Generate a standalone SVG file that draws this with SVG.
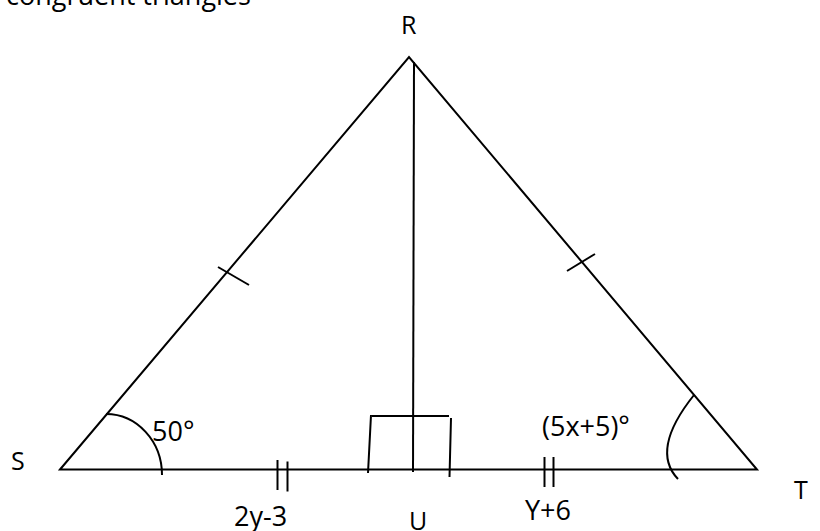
<svg xmlns="http://www.w3.org/2000/svg" width="820" height="531" viewBox="0 0 820 531">
<style>
.ln{stroke:#000;stroke-width:2;fill:none;stroke-linecap:butt}
.lb{font-family:"Open Sans","Liberation Sans",sans-serif;fill:#000}
.v{font-size:25px}
.e{font-size:27px}
</style>
<rect width="820" height="531" fill="#fff"/>
<text class="lb e" x="6" y="5">congruent triangles</text>
<g id="connectors">
<path class="ln" d="M60 469.5 L409 57 L757 469.5 Z"/>
<line class="ln" x1="414" y1="62" x2="413" y2="472"/>
</g>
<g id="R"><text class="lb v" x="401" y="34">R</text></g>
<g id="S"><text class="lb v" x="11" y="470">S</text></g>
<g id="T"><text class="lb v" x="794" y="499">T</text></g>
<g id="U"><text class="lb v" x="409" y="530">U</text></g>
<g id="marks">
<line class="ln" x1="218" y1="267" x2="249" y2="285"/>
<line class="ln" x1="567" y1="271" x2="595" y2="254"/>
<line class="ln" x1="277.5" y1="460" x2="277.5" y2="490"/>
<line class="ln" x1="287.5" y1="461.5" x2="287.5" y2="491.5"/>
<line class="ln" x1="544.5" y1="457" x2="544.5" y2="487"/>
<line class="ln" x1="553.5" y1="457" x2="553.5" y2="487"/>
<path class="ln" d="M371 415 L368 473 M372 416 L449 416 M451 418 L449.5 477"/>
<path class="ln" d="M106 414 A56 61 0 0 1 162 475"/>
<path class="ln" d="M694 395 Q650 450 678 479"/>
</g>
<g id="labels">
<text class="lb e" x="152" y="441">50°</text>
<text class="lb e" x="542" y="436">(5x+5)°</text>
<text class="lb e" x="234" y="526">2y-3</text>
<text class="lb e" x="525" y="520">Y+6</text>
</g>
</svg>
